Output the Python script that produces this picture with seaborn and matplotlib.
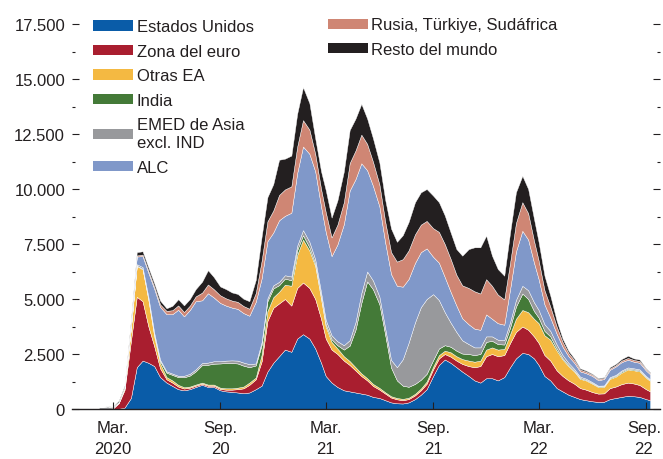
import pandas as pd
import seaborn as sns
import matplotlib.pyplot as plt
from matplotlib.patches import Patch
from matplotlib.ticker import FuncFormatter, MultipleLocator
from matplotlib.transforms import ScaledTranslation

dates = [
    '2020-01-01', '2020-01-11', '2020-01-21', '2020-02-01', '2020-02-11', '2020-02-21',
    '2020-03-01', '2020-03-11', '2020-03-21', '2020-04-01', '2020-04-11', '2020-04-21',
    '2020-05-01', '2020-05-11', '2020-05-21', '2020-06-01', '2020-06-11', '2020-06-21',
    '2020-07-01', '2020-07-11', '2020-07-21', '2020-08-01', '2020-08-11', '2020-08-21',
    '2020-09-01', '2020-09-11', '2020-09-21', '2020-10-01', '2020-10-11', '2020-10-21',
    '2020-11-01', '2020-11-11', '2020-11-21', '2020-12-01', '2020-12-11', '2020-12-21',
    '2021-01-01', '2021-01-11', '2021-01-21', '2021-02-01', '2021-02-11', '2021-02-21',
    '2021-03-01', '2021-03-11', '2021-03-21', '2021-04-01', '2021-04-11', '2021-04-21',
    '2021-05-01', '2021-05-11', '2021-05-21', '2021-06-01', '2021-06-11', '2021-06-21',
    '2021-07-01', '2021-07-11', '2021-07-21', '2021-08-01', '2021-08-11', '2021-08-21',
    '2021-09-01', '2021-09-11', '2021-09-21', '2021-10-01', '2021-10-11', '2021-10-21',
    '2021-11-01', '2021-11-11', '2021-11-21', '2021-12-01', '2021-12-11', '2021-12-21',
    '2022-01-01', '2022-01-11', '2022-01-21', '2022-02-01', '2022-02-11', '2022-02-21',
    '2022-03-01', '2022-03-11', '2022-03-21', '2022-04-01', '2022-04-11', '2022-04-21',
    '2022-05-01', '2022-05-11', '2022-05-21', '2022-06-01', '2022-06-11', '2022-06-21',
    '2022-07-01', '2022-07-11', '2022-07-21', '2022-08-01', '2022-08-11', '2022-08-21',
    '2022-09-01', '2022-09-08',
]

# Estados Unidos
us = [0, 0, 0, 0, 0, 0, 0, 10, 60, 500, 1900, 2200, 2100, 1950, 1450, 1200, 1050, 900,
      850, 900, 1000, 1100, 1000, 1000, 850, 800, 780, 750, 720, 750, 900, 1060, 1700, 2100,
      2400, 2700,
      2600, 3200, 3400, 3200, 2750, 2100, 1500, 1200, 1000, 850, 800, 750, 700, 650, 550,
      500, 400, 300, 260, 250, 300, 450, 650, 900, 1500, 2000, 2250, 2100, 1900, 1700, 1500,
      1300, 1200, 1400, 1400, 1300,
      1450, 1900, 2300, 2550, 2500, 2300, 2000, 1500, 1300, 950, 800, 650, 550, 450, 400,
      350, 320, 330, 450, 500, 550, 600, 580, 550, 450, 400]
# Zona del euro
ea = [0, 0, 0, 0, 0, 0, 30, 250, 800, 2600, 3200, 2700, 1650, 900, 400, 150, 150, 120,
      80, 70, 60, 50, 60, 60, 60, 80, 100, 150, 220, 350, 450, 1100, 2300, 2500, 2400, 2300,
      2100, 2300, 2350, 2300, 2250, 2000, 1700, 1500, 1500, 1350, 1200, 1000, 800, 650,
      500, 380, 300, 220, 180, 150, 150, 170, 200, 250, 300, 300, 250, 280, 300, 350, 450,
      600, 750, 1000, 1100, 1100,
      1000, 1100, 1200, 1200, 1100, 1000, 1000, 950, 900, 800, 700, 650, 600, 500, 480,
      420, 380, 380, 500, 520, 580, 600, 580, 540, 450, 400]
# Otras EA
oae = [0, 0, 0, 0, 0, 0, 0, 30, 90, 600, 1400, 1450, 1200, 450, 230, 100, 100, 80,
       60, 50, 50, 50, 50, 50, 60, 60, 60, 70, 80, 100, 80, 300, 450, 480, 530, 650,
       900, 1500, 1950, 1700, 1500, 900, 550, 350, 250, 200, 180, 150, 120, 100, 90, 80,
       60, 60, 60, 60, 60, 70, 80, 100, 120, 150, 150, 200, 200, 220, 250, 250, 250, 300,
       300, 300,
       280, 400, 600, 750, 800, 800, 900, 900, 950, 900, 750, 650, 550, 420, 420, 380, 300,
       300, 420, 450, 520, 600, 600, 620, 520, 480]
# India
ind = [0, 0, 0, 0, 0, 0, 0, 0, 0, 10, 20, 30, 60, 80, 100, 200, 250, 350,
       450, 500, 600, 800, 900, 950, 1100, 1150, 1150, 1100, 950, 700, 550, 450, 450, 400,
       300, 280,
       250, 220, 200, 150, 100, 100, 100, 120, 150, 300, 700, 1700, 3200, 4400, 4300, 3800,
       2600, 1300, 800, 600, 500, 450, 400, 350, 300, 300, 250, 250, 250, 250, 300, 300,
       300, 350, 300, 250,
       200, 300, 550, 750, 600, 350, 250, 200, 150, 100, 60, 50, 40, 40, 30, 30, 30, 30, 40,
       40, 50, 40, 40, 40, 40, 30]
# EMED de Asia excl. IND
ema = [0, 0, 5, 40, 100, 120, 60, 30, 20, 40, 60, 70, 80, 80, 60, 60, 60, 60,
       70, 80, 90, 90, 100, 110, 100, 110, 120, 130, 140, 140, 90, 120, 130, 140, 150, 150,
       170, 200, 230, 250, 200, 200, 200, 180, 180, 200, 250, 350, 450, 450, 400, 350, 300,
       350, 600, 1200, 2000, 2800, 3300, 3400, 3000, 2200, 1500, 1100, 850, 600, 450, 350,
       300, 250, 200, 200,
       200, 250, 300, 350, 400, 400, 350, 300, 250, 180, 140, 100, 80, 60, 50, 40, 30, 30,
       40, 40, 50, 50, 50, 50, 40, 40]
# ALC
alc = [0, 0, 0, 0, 0, 0, 0, 0, 20, 150, 350, 500, 1100, 2000, 2400, 2600, 2700, 3000,
       2700, 2900, 3100, 2850, 3150, 2900, 2650, 2500, 2400, 2350, 2250, 2200, 2800, 2900,
       2600, 2400, 2800, 2700,
       2900, 3300, 3800, 4000, 4000, 3900, 4000, 3600, 4400, 5500, 6800, 6500, 5900, 4600,
       4300, 4100, 3900, 3900, 3700, 3300, 2900, 2700, 2500, 2300, 1700, 1700, 1600, 1400,
       1200, 1000, 900, 850, 800, 1000, 800, 750,
       700, 1500, 2200, 2500, 2300, 1800, 1400, 900, 600, 480, 380, 300, 280, 240, 250, 280,
       250, 290, 330, 380, 380, 350, 300, 300, 250, 230]
# Rusia, Türkiye, Sudáfrica
rts = [0, 0, 0, 0, 0, 0, 0, 0, 10, 30, 50, 70, 90, 100, 120, 150, 180, 200,
       200, 200, 220, 350, 400, 380, 350, 330, 320, 320, 320, 320, 400, 800, 900, 1000, 1150,
       1200,
       1200, 1200, 1200, 1100, 800, 800, 900, 850, 900, 1000, 1250, 1300, 1300, 1200, 1100,
       1000, 950, 1000, 1100, 1250, 1300, 1300, 1250, 1250, 1300, 1400, 1500, 1500, 1400,
       1500, 1650, 1700, 1650, 1600, 1500, 1300,
       1150, 1200, 1300, 1300, 1200, 1000, 850, 650, 500, 330, 220, 150, 120, 80, 70, 60, 50,
       50, 60, 60, 70, 80, 80, 80, 60, 50]
# Resto del mundo
row = [0, 0, 0, 0, 0, 5, 20, 60, 70, 150, 150, 150, 150, 150, 170, 120, 200, 280,
       300, 300, 330, 500, 650, 550, 400, 420, 370, 360, 330, 340, 600, 1100, 1100, 1200,
       1600, 1400,
       1400, 1500, 1500, 1200, 700, 800, 1000, 900, 1100, 1400, 1500, 1450, 1400, 1150, 1060,
       990, 990, 1070, 900, 1090, 1290, 1460, 1470, 1450, 1480, 1350, 1300, 1200, 1170, 1350,
       1770, 2000, 2100, 1980, 1370, 1160,
       1080, 1380, 1400, 1200, 1100, 990, 830, 660, 500, 260, 150, 100, 80, 60, 50, 40, 40,
       40, 60, 60, 70, 100, 70, 70, 40, 40]

labels = ['Estados Unidos', 'Zona del euro', 'Otras EA', 'India',
          'EMED de Asia\nexcl. IND', 'ALC', 'Rusia, Türkiye, Sudáfrica',
          'Resto del mundo']
colors = ['#0a5ca8', '#a91e2f', '#f4b942', '#447a38', '#98999c', '#8098c9',
          '#cf8674', '#231f20']

tick_dates = ['2020-03-01', '2020-09-01', '2021-03-01', '2021-09-01',
              '2022-03-01', '2022-09-01']
tick_labels = ['Mar.\n2020', 'Sep.\n20', 'Mar.\n21', 'Sep.\n21', 'Mar.\n22',
               'Sep.\n22']


def main():
    sns.set_theme(style='white')
    plt.rcParams['font.family'] = ['Liberation Sans', 'DejaVu Sans']
    text_color = '#231f20'
    fsize = 12

    x = pd.to_datetime(dates)
    series = [us, ea, oae, ind, ema, alc, rts, row]
    palette = sns.color_palette(colors)

    fig, ax = plt.subplots(figsize=(6.63, 4.6), dpi=100)
    fig.subplots_adjust(left=72 / 663, right=660 / 663,
                        bottom=1 - 410 / 460, top=1 - 25 / 460)

    ax.stackplot(x, *series, colors=palette, edgecolor='white',
                 linewidth=0.3)

    ax.set_ylim(0, 17500)
    ax.set_xlim(pd.Timestamp('2019-12-22'), pd.Timestamp('2022-09-25'))

    ax.yaxis.set_major_locator(MultipleLocator(2500))
    ax.yaxis.set_minor_locator(MultipleLocator(1250))
    ax.yaxis.set_major_formatter(
        FuncFormatter(lambda v, p: f'{int(v):,}'.replace(',', '.')))
    ax.set_xticks(pd.to_datetime(tick_dates))
    ax.set_xticklabels(tick_labels, linespacing=1.45)

    ax.tick_params(axis='y', which='both', direction='in', left=True,
                   right=True, labelleft=True, labelright=False,
                   color=text_color, labelcolor=text_color,
                   labelsize=fsize, pad=5)
    ax.tick_params(axis='y', which='major', length=5, width=0.8)
    ax.tick_params(axis='y', which='minor', length=2.5, width=0.8)
    ax.tick_params(axis='x', which='major', direction='in', bottom=True,
                   length=5, width=0.8, color=text_color,
                   labelcolor=text_color, labelsize=fsize, pad=8)
    ax.set_axisbelow(False)

    # nudge the last date label so it stays inside the figure
    last = ax.get_xticklabels()[-1]
    last.set_transform(last.get_transform() +
                       ScaledTranslation(-2 / 100, 0, fig.dpi_scale_trans))

    sns.despine(ax=ax, left=True)
    ax.spines['bottom'].set_color(text_color)
    ax.spines['bottom'].set_linewidth(1.0)

    handles = [Patch(facecolor=c, edgecolor='none') for c in palette]
    leg_kw = dict(frameon=False, fontsize=fsize, handlelength=2.4,
                  handleheight=0.55, handletextpad=0.2, labelspacing=0.57,
                  borderpad=0, borderaxespad=0, labelcolor=text_color,
                  loc='upper left')
    leg1 = ax.legend(handles[:6], labels[:6],
                     bbox_to_anchor=(0.036, 1.012), **leg_kw)
    for t in leg1.get_texts():
        t.set_linespacing(1.25)
    ax.add_artist(leg1)
    ax.legend(handles[6:], labels[6:], bbox_to_anchor=(0.435, 1.017),
              **leg_kw)

    plt.savefig('out.png', dpi=100)


if __name__ == '__main__':
    main()
